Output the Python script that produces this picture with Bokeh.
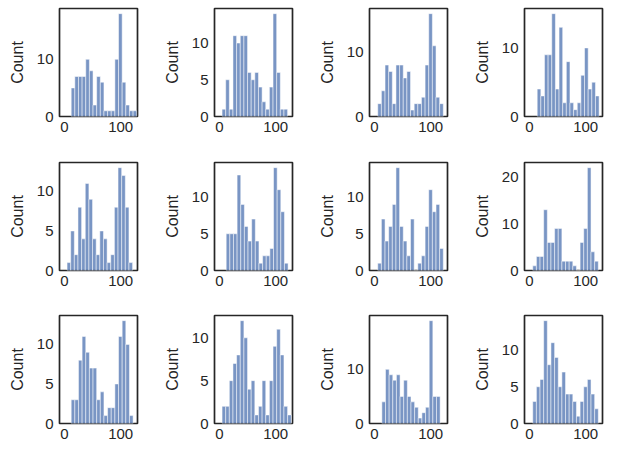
from bokeh.plotting import figure
from bokeh.layouts import gridplot
from bokeh.models import Range1d, FixedTicker
from bokeh.embed import file_html
from bokeh.resources import INLINE

# ---- data (histogram counts) ----
counts_1 = [5, 7, 7, 7, 10, 8, 2, 7, 6, 1, 1, 1, 10, 18, 6, 2, 1, 1]
counts_2 = [1, 5, 1, 11, 10, 11, 11, 6, 5, 6, 4, 2, 1, 4, 14, 6, 1, 1]
counts_3 = [2, 4, 8, 7, 2, 8, 8, 6, 7, 1, 2, 2, 3, 8, 16, 11, 3, 2]
counts_4 = [4, 3, 9, 9, 15, 4, 13, 2, 8, 2, 1, 2, 6, 10, 4, 5, 3]
counts_5 = [1, 5, 2, 8, 4, 11, 9, 4, 2, 5, 4, 1, 2, 8, 13, 12, 8, 1]
counts_6 = [5, 5, 5, 13, 9, 6, 4, 7, 4, 1, 2, 2, 3, 14, 11, 8, 1]
counts_7 = [1, 7, 4, 6, 9, 14, 6, 4, 2, 7, 0, 1, 2, 6, 11, 8, 9, 3]
counts_8 = [1, 3, 3, 13, 6, 6, 9, 9, 2, 2, 2, 1, 0, 6, 9, 22, 4, 2]
counts_9 = [3, 3, 8, 11, 9, 7, 7, 3, 4, 1, 2, 2, 5, 11, 13, 10, 1]
counts_10 = [2, 2, 5, 7, 8, 12, 10, 4, 5, 1, 2, 5, 1, 5, 9, 11, 8, 2, 1]
counts_11 = [4, 10, 9, 8, 9, 5, 8, 5, 4, 3, 1, 2, 3, 19, 5, 5]
counts_12 = [3, 5, 6, 14, 8, 11, 9, 5, 7, 4, 4, 3, 1, 3, 5, 6, 4, 2]

bin_starts = [12.0, 4.65, 5.9, 13.8, 4.65, 12.0, 5.9, 5.9, 12.0, 4.65, 13.2, 5.9]
bin_width = 6.48
x_limits = (-8.8, 130.0)
x_ticks = [0, 100]
y_label = "Count"

panels = [counts_1, counts_2, counts_3, counts_4, counts_5, counts_6,
          counts_7, counts_8, counts_9, counts_10, counts_11, counts_12]

# ---- layout ----
border_left = 59
border_top = 8
frame_w = 78
frame_h = 108
col_widths = [155, 155, 155, border_left + frame_w + 3]
row_heights = [154, 153, border_top + frame_h + 30]

bar_color = "#4c72b0"
ink = "#262626"
font = "Liberation Sans"

figs = []
for i, (counts, start) in enumerate(zip(panels, bin_starts)):
    r, c = divmod(i, 4)
    W, H = col_widths[c], row_heights[r]
    left = [start + k * bin_width for k in range(len(counts))]
    right = [l + bin_width for l in left]
    ymax = max(counts) * 1.05
    step = 5 if ymax < 15 else 10
    yt = list(range(0, int(ymax) + 1, step))

    p = figure(width=W, height=H, output_backend="svg", toolbar_location=None,
               x_range=Range1d(*x_limits), y_range=Range1d(0, ymax),
               min_border_left=border_left, min_border_right=W - border_left - frame_w,
               min_border_top=border_top, min_border_bottom=H - border_top - frame_h)
    p.quad(left=left, right=right, bottom=0, top=counts,
           fill_color=bar_color, fill_alpha=0.75, line_color="white", line_width=0.5)

    p.xgrid.visible = False
    p.ygrid.visible = False
    p.outline_line_color = ink
    p.outline_line_width = 1.7
    p.outline_line_alpha = 1.0
    p.background_fill_color = "white"
    p.border_fill_color = "white"

    p.xaxis.ticker = FixedTicker(ticks=x_ticks, minor_ticks=[])
    p.yaxis.ticker = FixedTicker(ticks=yt, minor_ticks=[])
    p.yaxis.axis_label = y_label
    for ax in (p.xaxis, p.yaxis):
        ax.axis_line_color = None
        ax.major_tick_line_color = None
        ax.minor_tick_line_color = None
        ax.major_tick_out = 0
        ax.major_tick_in = 0
        ax.major_label_text_font = font
        ax.major_label_text_font_size = "15px"
        ax.major_label_text_color = ink
        ax.axis_label_text_font = font
        ax.axis_label_text_font_size = "16px"
        ax.axis_label_text_font_style = "normal"
        ax.axis_label_text_color = ink
    p.xaxis.major_label_standoff = 5
    p.yaxis.major_label_standoff = 6
    p.yaxis.axis_label_standoff = 8
    figs.append(p)

grid = gridplot(figs, ncols=4, toolbar_location=None)

open("out.html", "w").write(file_html(grid, INLINE))
